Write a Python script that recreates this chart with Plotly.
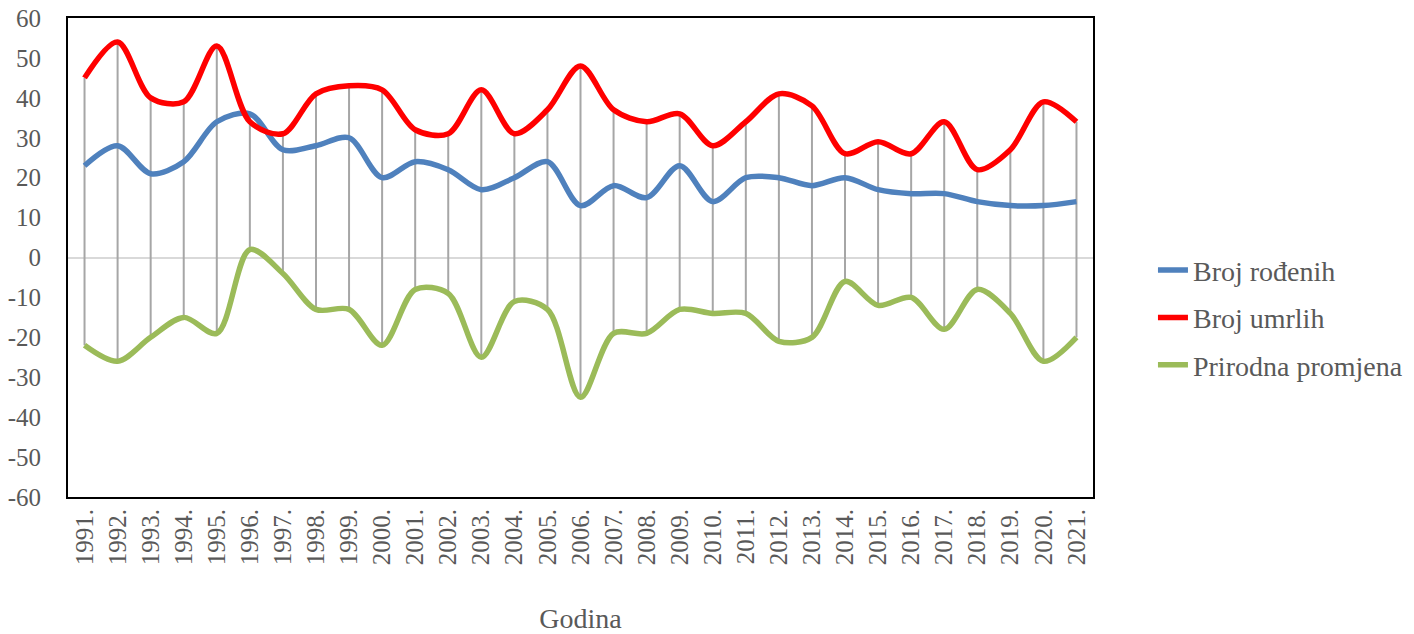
import plotly.graph_objects as go

years = [str(y) + "." for y in range(1991, 2022)]
rodjeni = [23, 28, 21, 24, 34, 36, 27, 28, 30, 20, 24, 22, 17, 20, 24, 13, 18, 15, 23, 14, 20,
           20, 18, 20, 17, 16, 16, 14, 13, 13, 14]
umrli = [45, 54, 40, 39, 53, 34, 31, 41, 43, 42, 32, 31, 42, 31, 37, 48, 37, 34, 36, 28, 34,
         41, 38, 26, 29, 26, 34, 22, 27, 39, 34]
promjena = [-22, -26, -20, -15, -19, 2, -4, -13, -13, -22, -8, -9, -25, -11, -13, -35, -19, -19, -13, -14, -14,
            -21, -20, -6, -12, -10, -18, -8, -14, -26, -20]
y_ticks = list(range(-60, 61, 10))
y_ticktext = [str(v) for v in y_ticks]

FONT = "Liberation Serif"
TXT = "#595959"

# high-low lines
hx, hy = [], []
for i, yr in enumerate(years):
    vals = [rodjeni[i], umrli[i], promjena[i]]
    hx += [yr, yr, None]
    hy += [max(vals), min(vals), None]

fig = go.Figure()
fig.add_trace(go.Scatter(x=hx, y=hy, mode="lines", line=dict(color="#A6A6A6", width=2),
                         showlegend=False, hoverinfo="skip"))
series = [("Broj rođenih", rodjeni, "#4F81BD"),
          ("Broj umrlih", umrli, "#FF0000"),
          ("Prirodna promjena", promjena, "#9BBB59")]
for name, vals, col in series:
    fig.add_trace(go.Scatter(x=years, y=vals, name=name, mode="lines", legendgroup=name,
                             line=dict(color=col, width=5.5, shape="spline", smoothing=0.9)))

fig.update_layout(
    width=1414, height=634,
    margin=dict(l=68, r=321, t=18, b=137, autoexpand=False),
    paper_bgcolor="white", plot_bgcolor="white",
    font=dict(family=FONT, size=25, color=TXT),
    legend=dict(x=1.0585, y=0.374, xanchor="left", yanchor="middle", traceorder="grouped",
                tracegroupgap=8, font=dict(family=FONT, size=28, color=TXT),
                bgcolor="rgba(0,0,0,0)"),
    showlegend=True,
)
fig.update_xaxes(type="category", range=[-0.5, 30.5], tickangle=-90, showgrid=False,
                 showline=True, linecolor="black", linewidth=2, mirror=True, automargin=False,
                 ticks="", tickfont=dict(family=FONT, size=25, color=TXT),
                 title=dict(text="Godina", font=dict(family=FONT, size=28, color=TXT), standoff=51))
fig.update_yaxes(range=[-60, 60], tickvals=y_ticks, ticktext=y_ticktext, showgrid=False,
                 zeroline=True, zerolinecolor="#D9D9D9", zerolinewidth=2, automargin=False,
                 showline=True, linecolor="black", linewidth=2, mirror=True,
                 ticks="", ticklabelstandoff=20, tickfont=dict(family=FONT, size=25, color=TXT))

fig.write_html("out.html", config={"displayModeBar": False},
               post_script="document.body.style.margin='0';document.body.style.overflow='hidden';")
